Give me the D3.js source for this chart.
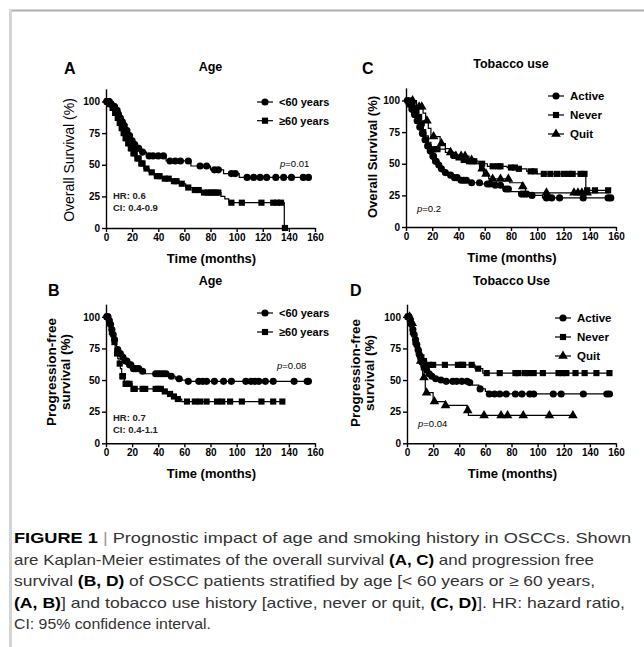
<!DOCTYPE html>
<html>
<head>
<meta charset="utf-8">
<script src="https://cdn.jsdelivr.net/npm/d3@7"></script>
<style>
	body { margin: 0; background: #fff; }
	svg { display: block; font-family: "Liberation Sans", Arial, sans-serif; }
	.tick text { font-size: 10px; font-weight: bold; fill: #000; }
	.domain, .tick line { stroke: #000; stroke-width: 1.4px; }
</style>
</head>
<body>
<svg id="fig" width="644" height="647"></svg>
<script>

// ---- data (time in months, survival in %) ----
const X_TICKS = [0, 20, 40, 60, 80, 100, 120, 140, 160];
const Y_TICKS = [0, 25, 50, 75, 100];

// A: overall survival by age
const A_U60_T = [0, 3, 5, 7, 9, 10, 12, 13, 15, 17, 19, 21, 23, 26, 31, 46, 65, 80, 90, 102];
const A_U60_S = [100, 98, 96, 93, 90, 87, 84, 81, 77, 73, 69, 66, 63, 60, 57, 53, 49, 46, 43, 40];
const A_U60_C = [0.5, 1, 2, 2.5, 3.5, 4, 5.5, 6, 6.5, 7.5, 8, 8.5, 9.5, 10.5, 11, 12.5, 13.5, 14, 15.5, 16, 17.5, 18, 19.5, 20, 21.5, 22, 24, 25, 28, 33, 36, 40, 44, 49, 53, 57, 63, 72, 77, 83, 86, 96, 99, 108, 113, 118, 123, 130, 136, 142, 151, 155];
const A_O60_T = [0, 2, 4, 6, 8, 10, 11, 13, 14, 16, 18, 20, 23, 26, 29, 33, 37, 42, 50, 56, 61, 66, 73, 88, 91, 94, 136.5];
const A_O60_S = [100, 98, 95, 91, 87, 83, 79, 75, 71, 67, 63, 59, 55, 51, 47, 44, 41, 39, 37, 35, 32, 30, 28, 25, 23, 20, 0];
const A_O60_C = [1, 1.5, 3, 3.5, 5, 5.5, 7, 7.5, 9, 9.5, 10.5, 12, 12.5, 13.5, 15, 15.5, 17, 17.5, 19, 19.5, 21, 22, 24, 25, 27, 28, 31, 35, 39, 41, 45, 48, 52, 54, 58, 63, 68, 71, 75, 78, 80, 82, 84, 86, 96, 104, 119, 128, 131, 134, 137];

// B: progression-free survival by age
const B_U60_T = [0, 2, 3, 4, 5, 6, 7, 8, 10, 12, 14, 17, 20, 26, 30, 47, 53, 58, 62];
const B_U60_S = [100, 97, 94, 90, 86, 82, 78, 74, 71, 68, 65, 62, 59, 57, 55, 53, 51, 50, 49];
const B_U60_C = [0.5, 1, 1.5, 2.5, 3.5, 4.5, 5.5, 6.5, 9, 11, 13, 15, 16, 18, 19, 21, 23, 25, 28, 38, 40, 42, 44, 46, 50, 56, 63, 71, 74, 77, 83, 90, 96, 107, 111, 114, 117, 122, 128, 144, 154, 155];
const B_O60_T = [0, 2, 3, 4, 5, 6, 7, 8, 9, 10, 11, 12, 14, 20, 43, 47, 51, 54, 58];
const B_O60_S = [100, 96, 92, 88, 84, 80, 75, 71, 67, 63, 59, 53, 47, 43, 41, 39, 37, 35, 33];
const B_O60_C = [1, 2.5, 4.5, 6.5, 8.5, 10.5, 12.5, 13, 15, 16, 18, 21, 22, 28, 30, 38, 40, 42, 45, 49, 52, 55, 62, 68, 72, 77, 85, 89, 95, 104, 119, 128, 135];

// C: overall survival by tobacco use
const C_ACT_T = [0, 2, 4, 6, 8, 10, 12, 14, 16, 18, 20, 22, 24, 26, 28, 31, 35, 40, 47, 58, 66, 74, 79, 86, 93, 104];
const C_ACT_S = [100, 97, 93, 89, 84, 79, 74, 69, 64, 60, 56, 52, 49, 46, 43, 41, 39, 37, 35, 34, 33, 30, 28, 26, 25, 23];
const C_ACT_C = [1, 2.5, 3, 4.5, 5, 6.5, 7, 8.5, 9, 10.5, 11, 12.5, 13, 14.5, 15, 16.5, 17, 18.5, 19, 20.5, 21, 22.5, 23, 25, 27, 30, 34, 37, 39, 42, 44, 46, 50, 56, 62, 64, 68, 72, 76, 78, 88, 90, 92, 96, 107, 111, 117, 135, 154, 156];
const C_NEV_T = [0, 4, 7, 9, 11, 13, 15, 17, 19, 30, 34, 38, 42, 47, 55, 62, 77, 85, 92, 100, 137];
const C_NEV_S = [100, 96, 92, 87, 82, 77, 72, 67, 61.5, 59, 57, 55, 53, 52, 50, 48, 47, 46, 44, 42, 29];
const C_NEV_C = [2, 5, 8, 10, 12, 21, 24, 36, 40, 44, 48, 50, 52, 58, 66, 70, 72, 80, 83, 86, 95, 98, 105, 110, 115, 120, 124, 127, 133, 136, 138, 144, 154];
const C_QUI_T = [0, 8, 13, 15, 17, 19, 26, 30, 33, 36, 48, 52, 56, 59, 63, 79, 88, 91];
const C_QUI_S = [100, 95, 90, 84, 78, 71.5, 66, 62, 59, 56, 53, 50, 46, 42, 38, 35, 32, 27];
const C_QUI_C = [5, 10, 12, 16, 21, 27, 34, 38, 42, 45, 50, 58, 61, 66, 72, 78, 89, 107, 128, 131, 134, 138];

// D: progression-free survival by tobacco use
const D_ACT_T = [0, 2, 3, 4, 5, 6, 7, 8, 9, 10, 11, 12, 14, 16, 18, 20, 24, 28, 47, 50, 55, 60, 62];
const D_ACT_S = [100, 97, 94, 90, 86, 82, 78, 74, 70, 67, 64, 61, 58, 55, 53, 51, 50, 49, 48, 46, 43, 41, 39];
const D_ACT_C = [0.5, 1, 1.5, 2.5, 3.5, 4.5, 5.5, 6.5, 7.5, 8.5, 9.5, 10.5, 11.5, 13, 15, 17, 19, 22, 26, 30, 35, 38, 42, 46, 48, 56, 63, 67, 71, 76, 83, 88, 94, 97, 112, 118, 135, 153, 155];
const D_NEV_T = [0, 2, 3, 4, 5, 6, 7, 8, 10, 12, 15, 52, 58];
const D_NEV_S = [100, 96, 92, 88, 84, 80, 76, 72, 68, 65, 62, 59, 55.5];
const D_NEV_C = [1, 2.5, 4.5, 6.5, 9, 11, 13, 17, 20, 29, 39, 42, 43, 49.5, 54.5, 61, 71, 83, 85, 90, 93, 97, 104, 116, 119, 122, 129, 136, 145, 155];
const D_QUI_T = [0, 3, 5, 6, 7, 8, 9, 10, 11, 12, 14, 20, 29, 46, 47];
const D_QUI_S = [100, 95, 90, 85, 80, 75, 70, 65, 58, 52, 40, 33, 30, 26, 22];
const D_QUI_C = [2, 4, 10.5, 13, 15, 21, 29.5, 46.5, 59, 72, 77, 89, 109, 127];

const CAPTION = [
	[["FIGURE 1", true], [" | ", "sep"], ["Prognostic impact of age and smoking history in OSCCs. Shown", false]],
	[["are Kaplan-Meier estimates of the overall survival ", false], ["(A, C)", true], [" and progression free", false]],
	[["survival ", false], ["(B, D)", true], [" of OSCC patients stratified by age [< 60 years or \u2265 60 years,", false]],
	[["(A, B)", true], ["] and tobacco use history [active, never or quit, ", false], ["(C, D)", true], ["]. HR: hazard ratio,", false]],
	[["CI: 95% confidence interval.", false]]
];
const CAPTION_WIDTHS = [617, 580, 581, 611, 197];

// step function value at time t
function survAt(times, surv, t) {
	let s = surv[0];
	for (let i = 0; i < times.length; i++) {
		if (times[i] <= t) s = surv[i];
	}
	return s;
}

const svg = d3.select("#fig");

// frame lines of the page
svg.append("line").attr("x1", 9).attr("x2", 644).attr("y1", 10.5).attr("y2", 10.5)
	.attr("stroke", "#adadad").attr("stroke-width", 2);
svg.append("line").attr("x1", 10.5).attr("x2", 10.5).attr("y1", 10).attr("y2", 647)
	.attr("stroke", "#d4d4d4").attr("stroke-width", 3);

const panels = [
	{
		letter: "A", lx: 64, ly: 74, title: "Age", ty: 71,
		x0: 106, x1: 315, yb: 228,
		ylab: ["Overall Survival (%)"], ylabX: [73.5], ylabY: 160, ylabBold: false, ylabSize: 14,
		series: [
			{ name: "<60 years", shape: d3.symbolCircle, t: A_U60_T, s: A_U60_S, c: A_U60_C, end: 155 },
			{ name: "\u226560 years", shape: d3.symbolSquare, t: A_O60_T, s: A_O60_S, c: A_O60_C, end: 137 }
		],
		legX: 257, legY: 102, legDy: 18.7, legSize: 11,
		p: "0.01", px: 280, py: 166.5, hr: ["HR: 0.6", "CI: 0.4-0.9"], hrY: 198.5
	},
	{
		letter: "B", lx: 48, ly: 296, title: "Age", ty: 285,
		x0: 106, x1: 315, yb: 443.3,
		ylab: ["Progression-free", "survival (%)"], ylabX: [56, 69.5], ylabY: 372, ylabBold: true, ylabSize: 13.5,
		series: [
			{ name: "<60 years", shape: d3.symbolCircle, t: B_U60_T, s: B_U60_S, c: B_U60_C, end: 155 },
			{ name: "\u226560 years", shape: d3.symbolSquare, t: B_O60_T, s: B_O60_S, c: B_O60_C, end: 136 }
		],
		legX: 257, legY: 313, legDy: 19, legSize: 11,
		p: "0.08", px: 277, py: 368.5, hr: ["HR: 0.7", "CI: 0.4-1.1"], hrY: 420.5
	},
	{
		letter: "C", lx: 362, ly: 74, title: "Tobacco use", ty: 68,
		x0: 406, x1: 616, yb: 227,
		ylab: ["Overall Survival (%)"], ylabX: [376.5], ylabY: 157, ylabBold: true, ylabSize: 13,
		series: [
			{ name: "Active", shape: d3.symbolCircle, t: C_ACT_T, s: C_ACT_S, c: C_ACT_C, end: 155 },
			{ name: "Never", shape: d3.symbolSquare, t: C_NEV_T, s: C_NEV_S, c: C_NEV_C, end: 155 },
			{ name: "Quit", shape: d3.symbolTriangle, t: C_QUI_T, s: C_QUI_S, c: C_QUI_C, end: 155 }
		],
		legX: 548, legY: 96, legDy: 19, legSize: 11.5,
		p: "0.2", px: 417, py: 211.5, hr: null
	},
	{
		letter: "D", lx: 350, ly: 296, title: "Tobacco Use", ty: 285,
		x0: 407, x1: 616, yb: 443.3,
		ylab: ["Progression-free", "survival (%)"], ylabX: [360, 373.5], ylabY: 373, ylabBold: true, ylabSize: 13.5,
		series: [
			{ name: "Active", shape: d3.symbolCircle, t: D_ACT_T, s: D_ACT_S, c: D_ACT_C, end: 155 },
			{ name: "Never", shape: d3.symbolSquare, t: D_NEV_T, s: D_NEV_S, c: D_NEV_C, end: 155 },
			{ name: "Quit", shape: d3.symbolTriangle, t: D_QUI_T, s: D_QUI_S, c: D_QUI_C, end: 127 }
		],
		legX: 555, legY: 318, legDy: 19, legSize: 11.5,
		p: "0.04", px: 418, py: 426.5, hr: null
	}
];

const SYMBOL_SIZE = new Map([[d3.symbolCircle, 40], [d3.symbolSquare, 38], [d3.symbolTriangle, 40]]);

panels.forEach((p) => {
	const g = svg.append("g");
	// 100% sits 126.5px above 0, axis runs on to 110%
	const x = d3.scaleLinear().domain([0, 160]).range([p.x0, p.x1]);
	const y = d3.scaleLinear().domain([0, 100]).range([p.yb, p.yb - 126.5]);

	g.append("g").attr("transform", `translate(0,${p.yb})`)
		.call(d3.axisBottom(x).tickValues(X_TICKS).tickSize(4).tickPadding(2).tickSizeOuter(0));
	g.append("g").attr("transform", `translate(${p.x0},0)`)
		.call(d3.axisLeft(y.copy().domain([0, 110]).range([p.yb, y(110)])).tickValues(Y_TICKS).tickSize(4).tickPadding(2).tickSizeOuter(0));

	const line = d3.line().curve(d3.curveStepAfter).x((d) => x(d[0])).y((d) => y(d[1]));

	p.series.forEach((ser) => {
		const pts = ser.t.map((t, i) => [t, ser.s[i]]);
		pts.push([ser.end, ser.s[ser.s.length - 1]]);
		g.append("path").attr("d", line(pts))
			.attr("fill", "none").attr("stroke", "#000").attr("stroke-width", 1.2);
		g.selectAll(null).data(ser.c).enter().append("path")
			.attr("d", d3.symbol().type(ser.shape).size(SYMBOL_SIZE.get(ser.shape)))
			.attr("transform", (t) => `translate(${x(t)},${y(survAt(ser.t, ser.s, t))})`)
			.attr("fill", "#000");
	});

	// legend
	p.series.forEach((ser, i) => {
		const ly = p.legY + i * p.legDy;
		g.append("line").attr("x1", p.legX).attr("x2", p.legX + 16).attr("y1", ly).attr("y2", ly)
			.attr("stroke", "#000").attr("stroke-width", 1.2);
		g.append("path").attr("d", d3.symbol().type(ser.shape).size(SYMBOL_SIZE.get(ser.shape)))
			.attr("transform", `translate(${p.legX + 8},${ly})`);
		g.append("text").attr("x", p.legX + 22).attr("y", ly).attr("dy", "0.35em")
			.attr("font-size", p.legSize).attr("font-weight", "bold").text(ser.name);
	});

	// panel letter and title
	g.append("text").attr("x", p.lx).attr("y", p.ly).attr("font-size", 16).attr("font-weight", "bold").text(p.letter);
	g.append("text").attr("x", (p.x0 + p.x1) / 2).attr("y", p.ty).attr("text-anchor", "middle")
		.attr("font-size", 12.5).attr("font-weight", "bold").text(p.title);

	// axis titles
	g.append("text").attr("x", (p.x0 + p.x1) / 2 + 1).attr("y", p.yb + 35).attr("text-anchor", "middle")
		.attr("font-size", 13).attr("font-weight", "bold").text("Time (months)");
	p.ylab.forEach((lab, i) => {
		g.append("text").attr("transform", `translate(${p.ylabX[i]},${p.ylabY}) rotate(-90)`)
			.attr("text-anchor", "middle").attr("font-size", p.ylabSize)
			.attr("font-weight", p.ylabBold ? "bold" : "normal").text(lab);
	});

	// statistics
	const pt = g.append("text").attr("x", p.px).attr("y", p.py).attr("font-size", 9.5);
	pt.append("tspan").attr("font-style", "italic").text("p");
	pt.append("tspan").text("=" + p.p);
	if (p.hr) {
		p.hr.forEach((h, i) => {
			g.append("text").attr("x", p.x0 + 7).attr("y", p.hrY + i * 12).attr("font-size", 9.5)
				.attr("font-weight", "bold").attr("fill", "#222").text(h);
		});
	}
});

// caption
CAPTION.forEach((parts, i) => {
	const t = svg.append("text").attr("x", 14).attr("y", 543 + i * 21.5).attr("font-size", 15)
		.attr("fill", "#333").attr("textLength", CAPTION_WIDTHS[i]).attr("lengthAdjust", "spacingAndGlyphs");
	parts.forEach(([txt, kind]) => {
		const ts = t.append("tspan").text(txt);
		if (kind === true) ts.attr("font-weight", "bold").attr("fill", "#000");
		if (kind === "sep") ts.attr("fill", "#999");
	});
});

</script>
</body>
</html>
